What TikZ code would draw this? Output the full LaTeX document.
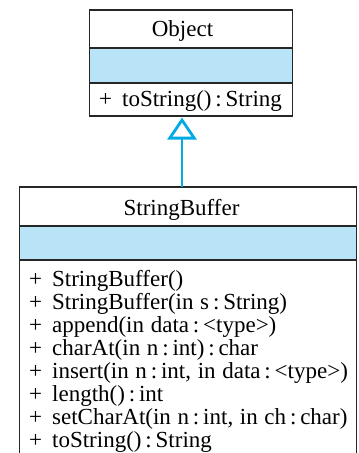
\documentclass[tikz,border=0pt]{standalone}
\usepackage{fontspec}
\setmainfont{Liberation Serif}
\usetikzlibrary{arrows.meta}
\definecolor{umlblue}{RGB}{185,228,247}
\definecolor{umlcyan}{RGB}{0,170,228}
\newcommand{\plusgap}{+\hspace{10pt}}
\begin{document}
\begin{tikzpicture}[x=1pt,y=1pt,
  boxline/.style={draw=black!85,line width=1.1pt},
  classbox/.style={boxline,inner sep=0pt,outer sep=0pt},
  txt/.style={inner sep=0pt,anchor=base west,font={\fontsize{23}{23}\selectfont\spaceskip=0.29em\relax}},
  ttl/.style={inner sep=0pt,anchor=base,font=\fontsize{23}{23}\selectfont},
  inherit/.style={draw=umlcyan,line width=2.8pt,-{Triangle[open,length=22pt,width=29pt]}}]
\useasboundingbox (0,0) rectangle (359,-453);
\clip (0,0) rectangle (359,-453);
% Object class
\fill[umlblue] (89.5,-48) rectangle (292.5,-83);
\node[classbox,minimum width=203pt,minimum height=106pt] (obj) at (191,-63) {};
\draw[boxline] (89.5,-48) -- (292.5,-48) (89.5,-83) -- (292.5,-83);
\node[ttl] (objname) at (182.5,-36) {Object};
\node[txt] (objm1) at (99,-106) {\plusgap toString()\,:\,String};
% StringBuffer class
\fill[umlblue] (19.5,-226) rectangle (356.5,-260);
\node[classbox,minimum width=337pt,minimum height=283pt] (sb) at (188,-328.5) {};
\draw[boxline] (19.5,-226) -- (356.5,-226) (19.5,-260) -- (356.5,-260);
\node[ttl] (sbname) at (181.5,-215) {StringBuffer};
\node[txt] (m1) at (29,-286) {\plusgap StringBuffer()};
\node[txt] (m2) at (29,-309) {\plusgap StringBuffer(in s\,:\,String)};
\node[txt] (m3) at (29,-332) {\plusgap append(in data\,:\,<type>)};
\node[txt] (m4) at (29,-355) {\plusgap charAt(in n\,:\,int)\,:\,char};
\node[txt] (m5) at (29,-378) {\plusgap insert(in n\,:\,int, in data\,:\,<type>)};
\node[txt] (m6) at (29,-401) {\plusgap length()\,:\,int};
\node[txt] (m7) at (29,-424) {\plusgap setCharAt(in n\,:\,int, in ch\,:\,char)};
\node[txt] (m8) at (29,-447) {\plusgap toString()\,:\,String};
% generalization
\coordinate (ax) at (182,0);
\draw[inherit] (sb.north -| ax) -- ([yshift=-1.5pt]obj.south -| ax);
\end{tikzpicture}
\end{document}
